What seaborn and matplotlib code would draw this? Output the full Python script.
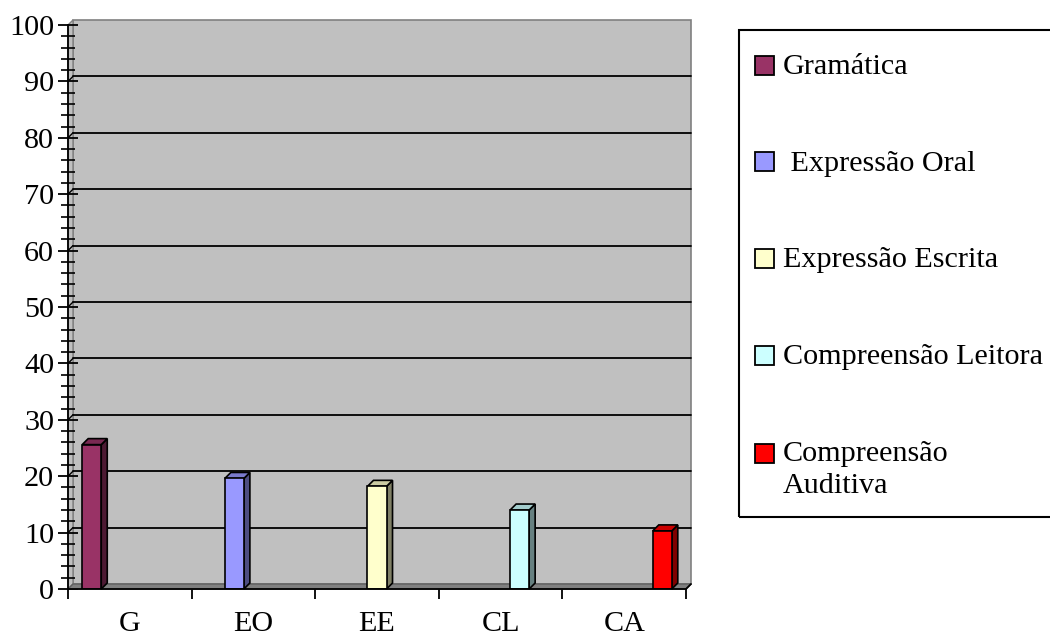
import numpy as np
import pandas as pd
import matplotlib
matplotlib.use("Agg")
import matplotlib.pyplot as plt
import seaborn as sns
from matplotlib.patches import Rectangle, Polygon
from matplotlib.ticker import MultipleLocator, FixedLocator
from matplotlib.colors import to_rgb

# Data
categorias = ["G", "EO", "EE", "CL", "CA"]
series = ["Gramática", "Expressão Oral", "Expressão Escrita",
          "Compreensão Leitora", "Compreensão Auditiva"]
rotulos_legenda = ["Gramática", " Expressão Oral", "Expressão Escrita",
                   "Compreensão Leitora", "Compreensão\nAuditiva"]
valores = [25.6, 19.6, 18.2, 14.0, 10.3]
cores = ["#993366", "#9999FF", "#FFFFCC", "#CCFFFF", "#FF0000"]

sns.set_theme(style="white")
plt.rcParams["font.family"] = ["Liberation Serif", "DejaVu Serif"]

W, H = 1050, 637
FS = 21.7
fig = plt.figure(figsize=(W / 100, H / 100), dpi=100)
fig.patch.set_facecolor("white")

# axes box: front x-axis 68..686 px, y from 589 (0) to 25 (100)
ax = fig.add_axes([68 / W, (H - 589) / H, 618 / W, 564 / H])

df = pd.DataFrame({"categoria": categorias, "serie": series, "valor": valores})
sns.barplot(data=df, x="categoria", y="valor", hue="serie",
            order=categorias, hue_order=series, palette=cores,
            dodge=True, width=0.77, saturation=1,
            edgecolor="black", linewidth=1.2, legend=False, ax=ax, zorder=4)
bars = [p for p in ax.patches if np.isfinite(p.get_height()) and p.get_height() > 0]

ax.set_xlim(-0.5, 4.5)
ax.set_ylim(0, 100)
ax.set_facecolor("none")
ax.set_xlabel("")
ax.set_ylabel("")

# pseudo-3D depth (pixels -> axes / data units)
ax_w_px, ax_h_px = 618, 564
wall_dx, wall_dy = 5 / ax_w_px, 5 / ax_h_px
bar_dx = 6 * 5 / ax_w_px
bar_dy = 6 * 100 / ax_h_px

# back wall, side wall and floor
T = ax.transAxes
ax.add_patch(Rectangle((wall_dx, wall_dy), 1, 1, transform=T, facecolor="#C0C0C0",
                       edgecolor="#808080", lw=1.2, zorder=0, clip_on=False))
ax.add_patch(Polygon([(0, 0), (wall_dx, wall_dy), (wall_dx, 1 + wall_dy), (0, 1)],
                     closed=True, transform=T, facecolor="#C0C0C0",
                     edgecolor="#808080", lw=1.0, zorder=0.5, clip_on=False))
ax.add_patch(Polygon([(0, 0), (1, 0), (1 + wall_dx, wall_dy), (wall_dx, wall_dy)],
                     closed=True, transform=T, facecolor="#808080",
                     edgecolor="#606060", lw=1.0, zorder=1, clip_on=False))

# gridlines on the back wall
for v in range(10, 100, 10):
    yv = v / 100
    ax.plot([wall_dx, 1 + wall_dx], [yv + wall_dy] * 2, transform=T,
            color="black", lw=1.3, zorder=2, clip_on=False)
    ax.plot([0, wall_dx], [yv, yv + wall_dy], transform=T,
            color="black", lw=1.0, zorder=2, clip_on=False)

# side and top faces of the bars
for p in bars:
    x0, w, h = p.get_x(), p.get_width(), p.get_height()
    base = np.array(to_rgb(p.get_facecolor()))
    side = tuple(base * 0.5)
    top = tuple(base * 0.8)
    ax.add_patch(Polygon([(x0 + w, 0), (x0 + w + bar_dx, bar_dy),
                          (x0 + w + bar_dx, h + bar_dy), (x0 + w, h)],
                         closed=True, facecolor=side, edgecolor="black",
                         lw=1.2, zorder=3.5, clip_on=False))
    ax.add_patch(Polygon([(x0, h), (x0 + w, h), (x0 + w + bar_dx, h + bar_dy),
                          (x0 + bar_dx, h + bar_dy)],
                         closed=True, facecolor=top, edgecolor="black",
                         lw=1.2, zorder=3.5, clip_on=False))

# spines
for s in ["top", "right"]:
    ax.spines[s].set_visible(False)
for s in ["left", "bottom"]:
    ax.spines[s].set_color("black")
    ax.spines[s].set_linewidth(1.3)
    ax.spines[s].set_zorder(5)
ax.plot([1, 1 + wall_dx], [0, wall_dy], transform=T, color="black", lw=1.3,
        zorder=5, clip_on=False)

# y ticks
ax.yaxis.set_major_locator(MultipleLocator(10))
ax.yaxis.set_minor_locator(MultipleLocator(2))
ax.tick_params(axis="y", which="major", direction="inout", length=14, width=1.3,
               pad=3, labelsize=FS, colors="black", left=True)
ax.tick_params(axis="y", which="minor", direction="inout", length=10, width=1.2,
               colors="black", left=True)

# x ticks: labels at centres, tick marks at category boundaries
ax.set_xticks(range(len(categorias)))
ax.set_xticklabels(categorias)
ax.xaxis.set_minor_locator(FixedLocator(np.arange(-0.5, len(categorias), 1.0)))
ax.tick_params(axis="x", which="major", length=0, pad=16, labelsize=FS, colors="black")
ax.tick_params(axis="x", which="minor", direction="out", length=7, width=1.3,
               colors="black", bottom=True)

# legend box
def fx(px):
    return px / W

def fy(py):
    return 1 - py / H

fig.patches.append(Rectangle((fx(739), fy(517)), fx(1062) - fx(739), fy(30) - fy(517),
                             transform=fig.transFigure, fill=False,
                             edgecolor="black", lw=1.5))
centros = [65, 162, 258, 355, 453]
for rot, cor, yc in zip(rotulos_legenda, cores, centros):
    fig.patches.append(Rectangle((fx(755), fy(yc + 9.5)), 19 / W, 19 / H,
                                 transform=fig.transFigure, facecolor=cor,
                                 edgecolor="black", lw=1.3))
    if "\n" in rot:
        fig.text(fx(783), fy(yc - 12), rot, fontsize=FS, va="top", ha="left",
                 linespacing=1.3, color="black")
    else:
        fig.text(fx(783), fy(yc + 2), rot, fontsize=FS, va="center", ha="left",
                 color="black")

fig.savefig("out.png", dpi=100)
